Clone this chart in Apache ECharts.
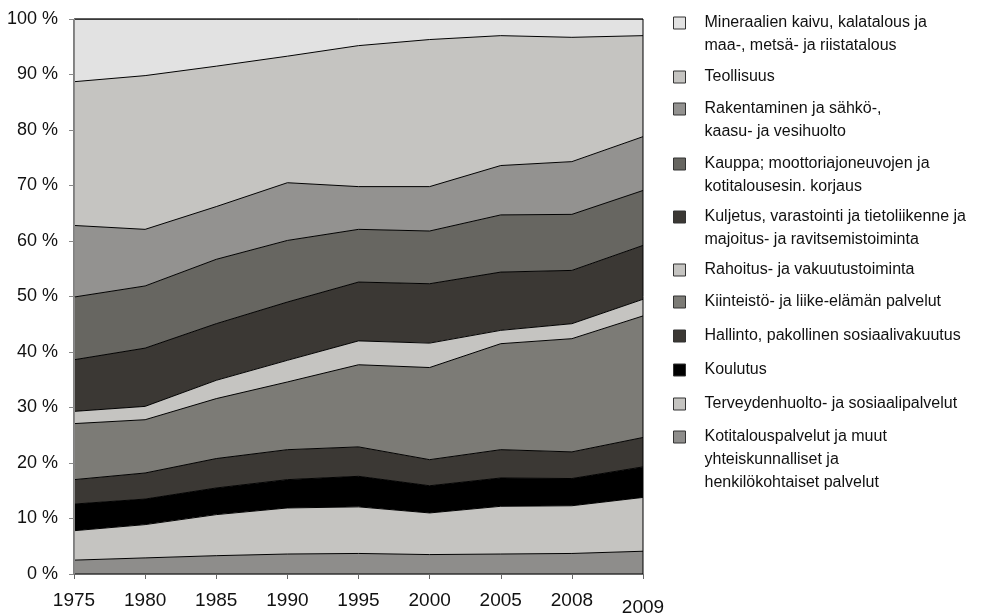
<!DOCTYPE html>
<html>
<head>
<meta charset="utf-8">
<script src="https://cdn.jsdelivr.net/npm/echarts@6/dist/echarts.min.js"></script>
<style>
  html, body { margin: 0; padding: 0; background: #fff; }
  #chart { width: 994px; height: 614px; }
</style>
</head>
<body>
<div id="chart"></div>
<script>
// vuodet
var years = ['1975', '1980', '1985', '1990', '1995', '2000', '2005', '2008', '2009'];

// toimialojen osuudet (%), alimmasta ylimpään
var kotitalous   = [2.5, 2.9, 3.3, 3.6, 3.7, 3.5, 3.6, 3.7, 4.1];
var terveys      = [5.3, 6.0, 7.4, 8.3, 8.4, 7.5, 8.6, 8.6, 9.7];
var koulutus     = [4.8, 4.6, 4.8, 5.1, 5.5, 4.9, 5.1, 4.9, 5.5];
var hallinto     = [4.4, 4.7, 5.3, 5.4, 5.3, 4.7, 5.1, 4.8, 5.3];
var kiinteisto   = [10.1, 9.6, 10.8, 12.2, 14.8, 16.6, 19.1, 20.4, 21.9];
var rahoitus     = [2.2, 2.4, 3.3, 3.9, 4.3, 4.4, 2.4, 2.7, 3.0];
var kuljetus     = [9.3, 10.5, 10.2, 10.5, 10.6, 10.7, 10.5, 9.6, 9.7];
var kauppa       = [11.3, 11.2, 11.6, 11.1, 9.5, 9.5, 10.3, 10.1, 9.9];
var rakentaminen = [12.9, 10.2, 9.5, 10.4, 7.7, 8.0, 8.9, 9.5, 9.7];
var teollisuus   = [25.9, 27.7, 25.3, 22.8, 25.4, 26.5, 23.4, 22.4, 18.2];
var mineraalit   = [11.3, 10.2, 8.5, 6.7, 4.8, 3.7, 3.0, 3.3, 3.0];

var names = [
    'Kotitalouspalvelut ja muut\nyhteiskunnalliset ja\nhenkilökohtaiset palvelut',
    'Terveydenhuolto- ja sosiaalipalvelut',
    'Koulutus',
    'Hallinto, pakollinen sosiaalivakuutus',
    'Kiinteistö- ja liike-elämän palvelut',
    'Rahoitus- ja vakuutustoiminta',
    'Kuljetus, varastointi ja tietoliikenne ja\nmajoitus- ja ravitsemistoiminta',
    'Kauppa; moottoriajoneuvojen ja\nkotitalousesin. korjaus',
    'Rakentaminen ja sähkö-,\nkaasu- ja vesihuolto',
    'Teollisuus',
    'Mineraalien kaivu, kalatalous ja\nmaa-, metsä- ja riistatalous'
];
var values = [kotitalous, terveys, koulutus, hallinto, kiinteisto, rahoitus,
              kuljetus, kauppa, rakentaminen, teollisuus, mineraalit];
var fills = ['#8e8d8b', '#c5c4c1', '#000000', '#3b3834', '#7c7b76', '#c5c4c1',
             '#3b3834', '#676661', '#939290', '#c5c4c1', '#e2e2e2'];

// selitteen ensimmäisen rivin keskikohta (y), ylhäältä alas
var legendY = [23, 77, 109, 164, 217, 270, 302, 336, 370, 404, 437];
var lh = 23;

var font = '"Liberation Sans", Arial, sans-serif';

var series = names.map(function (n, i) {
    return {
        name: n,
        type: 'line',
        stack: 'total',
        data: values[i],
        symbol: 'none',
        z: 2 + names.length - i,
        color: fills[i],
        lineStyle: { color: '#000', width: 1 },
        areaStyle: { color: fills[i], opacity: 1 },
        emphasis: { disabled: true }
    };
});

// jokainen selite omana komponenttinaan, ruutu ensimmäisen rivin kohdalla
var legends = names.slice().reverse().map(function (n, k) {
    var lines = n.split('\n').length;
    var i = names.length - 1 - k;
    return {
        data: [n],
        orient: 'vertical',
        left: 673,
        top: legendY[k] - (2 * lines - 1) * lh / 2,
        padding: 0,
        icon: 'rect',
        itemWidth: 12,
        itemHeight: 12,
        selectedMode: false,
        formatter: function (name) {
            return new Array(lines).join('\n') + name;
        },
        itemStyle: { color: fills[i], borderColor: '#333', borderWidth: 1 },
        textStyle: {
            fontFamily: font,
            fontSize: 16,
            color: '#111',
            lineHeight: lh,
            padding: [0, 0, 0, 14]
        }
    };
});

var chart = echarts.init(document.getElementById('chart'));
chart.setOption({
    animation: false,
    backgroundColor: '#fff',
    grid: {
        left: 74, right: 351, top: 19, bottom: 40,
        outerBoundsMode: 'none',
        containLabel: false,
        show: true, z: 30,
        borderColor: '#000', borderWidth: 1,
        backgroundColor: 'transparent'
    },
    legend: legends,
    xAxis: {
        type: 'category',
        data: years,
        boundaryGap: false,
        z: 40,
        axisLine: { lineStyle: { color: '#666', width: 1 } },
        axisTick: { alignWithLabel: true, length: 5, lineStyle: { color: '#666' } },
        axisLabel: {
            interval: 0,
            margin: 17,
            fontFamily: font,
            fontSize: 19,
            color: '#111',
            formatter: function (v) {
                return v === '2009' ? '{low|' + v + '}' : v;
            },
            rich: { low: { fontFamily: font, fontSize: 19, color: '#111', padding: [7, 0, 0, 0] } }
        }
    },
    yAxis: {
        type: 'value',
        min: 0, max: 100, interval: 10,
        z: 40,
        splitLine: { show: false },
        axisLine: { show: true, lineStyle: { color: '#888', width: 1 } },
        axisTick: { show: true, length: 5, lineStyle: { color: '#888' } },
        axisLabel: {
            margin: 16,
            fontFamily: font,
            fontSize: 18,
            color: '#111',
            formatter: '{value} %'
        }
    },
    series: series
});
</script>
</body>
</html>
